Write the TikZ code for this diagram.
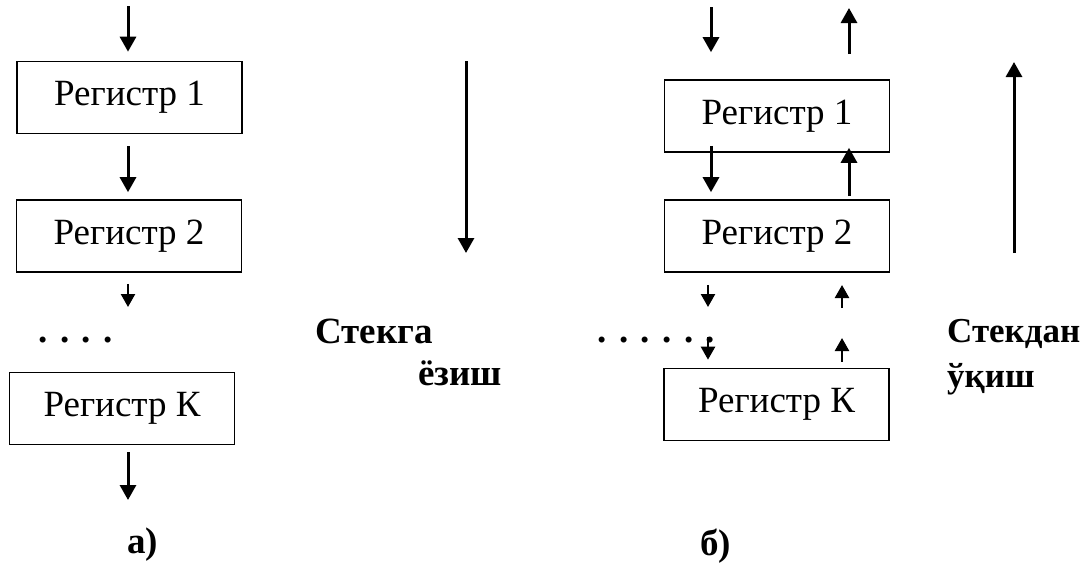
\documentclass[tikz,border=0pt]{standalone}
\usepackage{fontspec}
\setmainfont{Liberation Serif}
\usetikzlibrary{arrows.meta}

\begin{document}
\begin{tikzpicture}[x=1pt,y=-1pt,
  reg/.style={draw,line width=1.6pt,minimum width=225pt,minimum height=72pt,
    inner sep=0,font=\fontsize{37}{40}\selectfont},
  arr/.style={line width=3pt,-{Triangle[width=16pt,length=15pt]}},
  sarr/.style={line width=2.4pt,-{Triangle[width=14pt,length=13pt]}},
  lbl/.style={anchor=base west,inner sep=0,font=\fontsize{37}{40}\selectfont\bfseries},
  dots/.style={anchor=base west,inner sep=0,font=\fontsize{37}{40}\selectfont\bfseries}]
  \useasboundingbox (0,0) rectangle (1085,563);

  % a) stack write
  \node[reg] (l1) at (129.5,97.5) {Регистр 1};
  \node[reg] (l2) at (129,236) {Регистр 2};
  \node[reg] (lk) at (122,408.5) {Регистр К};
  \node[dots] (ldots) at (38.5,342) {. . . .};
  \coordinate (lin) at (128,6);
  \coordinate (lmid) at (128,307);
  \coordinate (lout) at (128,500);
  \draw[arr,shorten >=9pt] (lin) -- (lin |- l1.north);
  \draw[arr,shorten <=12pt,shorten >=7pt] (l1.south -| lin) -- (l2.north -| lin);
  \draw[sarr,shorten <=11pt] (l2.south -| lin) -- (lmid);
  \draw[arr,shorten <=7pt] (lk.south -| lin) -- (lout);

  \coordinate (wtop) at (466,61);
  \coordinate (wbot) at (466,253);
  \draw[arr] (wtop) -- (wbot);
  \node[lbl] (wr1) at (315,343) {Стекга};
  \node[lbl] (wr2) at (418,385) {ёзиш};
  \node[lbl] (capa) at (127,553) {а)};

  % b) stack write and read
  \node[reg] (r1) at (777,116) {Регистр 1};
  \node[reg] (r2) at (777,236) {Регистр 2};
  \node[reg] (rk) at (776.5,404.5) {Регистр К};
  \node[dots] (rdots) at (597.5,342) {. . . . . .};
  \coordinate (rin) at (711,7);
  \coordinate (rout) at (849,8);
  \coordinate (rdx) at (708,0);
  \coordinate (rux) at (842,0);
  \draw[arr,shorten >=27pt] (rin) -- (rin |- r1.north);
  \draw[arr,shorten <=25pt] (r1.north -| rout) -- (rout);
  \draw[arr,shorten <=-7pt,shorten >=7pt] (r1.south -| rin) -- (r2.north -| rin);
  \draw[arr,shorten <=3pt,shorten >=-5pt] (r2.north -| rout) -- (r1.south -| rout);
  % short steps through the dotted part
  \coordinate (rd1) at (708,307);
  \coordinate (rd2) at (708,337);
  \coordinate (ru1a) at (842,308);
  \coordinate (ru1b) at (842,285);
  \coordinate (ru2) at (842,338);
  \draw[sarr,shorten <=12pt] (r2.south -| rdx) -- (rd1);
  \draw[sarr] (ru1a) -- (ru1b);
  \draw[sarr,shorten >=8pt] (rd2) -- (rk.north -| rdx);
  \draw[sarr,shorten <=6pt] (rk.north -| rux) -- (ru2);

  \coordinate (rbot) at (1014,253);
  \coordinate (rtop) at (1014,62);
  \draw[arr] (rbot) -- (rtop);
  \node[lbl,font=\fontsize{35}{38}\selectfont\bfseries] (rd1l) at (947,342) {Стекдан};
  \node[lbl,font=\fontsize{35}{38}\selectfont\bfseries] (rd2l) at (947,387) {ўқиш};
  \node[lbl] (capb) at (700,555) {б)};
\end{tikzpicture}
\end{document}
